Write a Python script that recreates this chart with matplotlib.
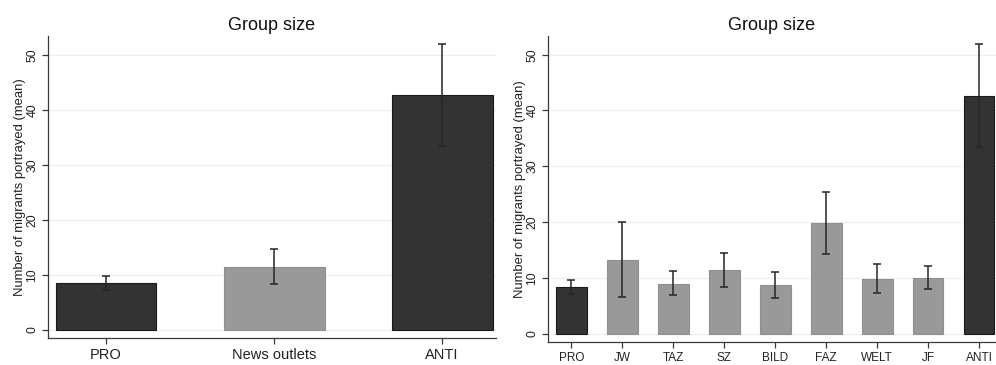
import matplotlib
matplotlib.use("Agg")
import matplotlib.pyplot as plt
import numpy as np

plt.rcParams['font.family'] = ['Liberation Sans', 'DejaVu Sans']

# Left panel data
cats_left = ["PRO", "News outlets", "ANTI"]
mean_left = [8.48, 11.5, 42.67]
lo_left = [7.26, 8.3, 33.5]
hi_left = [9.75, 14.8, 51.9]
col_left = ["#333333", "#999999", "#333333"]

# Right panel data
cats_right = ["PRO", "JW", "TAZ", "SZ", "BILD", "FAZ", "WELT", "JF", "ANTI"]
mean_right = [8.37, 13.2, 8.97, 11.36, 8.67, 19.8, 9.87, 10.05, 42.6]
lo_right = [7.18, 6.57, 6.87, 8.43, 6.46, 14.35, 7.3, 8.0, 33.5]
hi_right = [9.69, 19.97, 11.18, 14.47, 11.0, 25.3, 12.5, 12.1, 51.9]
col_right = ["#333333"] + ["#999999"] * 7 + ["#333333"]

yticks = [0, 10, 20, 30, 40, 50]

W, H = 996, 365
fig = plt.figure(figsize=(W / 100, H / 100), dpi=100)

def make_ax(l, r, t, b):
    return fig.add_axes([l / W, 1 - b / H, (r - l) / W, (b - t) / H])

def draw(ax, cats, means, lo, hi, cols, xfs, xlim, ylim):
    x = np.arange(len(cats))
    means = np.array(means)
    yerr = np.vstack([means - np.array(lo), np.array(hi) - means])
    edges = ["#1a1a1a" if c == "#333333" else "#8f8f8f" for c in cols]
    ax.bar(x, means, width=0.6, color=cols, edgecolor=edges, linewidth=0.8, zorder=2)
    ax.errorbar(x, means, yerr=yerr, fmt="none", ecolor="#262626", elinewidth=1.1,
                capsize=3, capthick=1.1, zorder=3)
    ax.set_xlim(*xlim)
    ax.set_ylim(*ylim)
    ax.set_yticks(yticks)
    ax.set_yticklabels([str(v) for v in yticks], rotation=90, va="center", fontsize=8.8, color="#222222")
    ax.set_xticks(x)
    ax.set_xticklabels(cats, fontsize=xfs, color="#222222")
    ax.grid(axis="y", color="#e8f0f2", linewidth=0.9, zorder=0)
    ax.set_axisbelow(True)
    for s in ["top", "right"]:
        ax.spines[s].set_visible(False)
    for s in ["left", "bottom"]:
        ax.spines[s].set_color("#3a3a3a")
        ax.spines[s].set_linewidth(0.9)
    ax.tick_params(axis="both", direction="out", length=4, width=0.9, color="#3a3a3a", pad=3)
    ax.set_ylabel("Number of migrants portrayed (mean)", fontsize=9.4, color="#222222", labelpad=0.5)
    ax.set_title("Group size", fontsize=13, color="#111111", pad=4.5)

ax1 = make_ax(48, 496, 36, 338)
draw(ax1, cats_left, mean_left, lo_left, hi_left, col_left, 10.5,
     (-0.345, 2.32), (-1.45, 53.4))

ax2 = make_ax(548, 996, 36, 342)
draw(ax2, cats_right, mean_right, lo_right, hi_right, col_right, 8.5,
     (-0.457, 8.33), (-1.5, 53.35))

fig.savefig("out.png", dpi=100, facecolor="white")
